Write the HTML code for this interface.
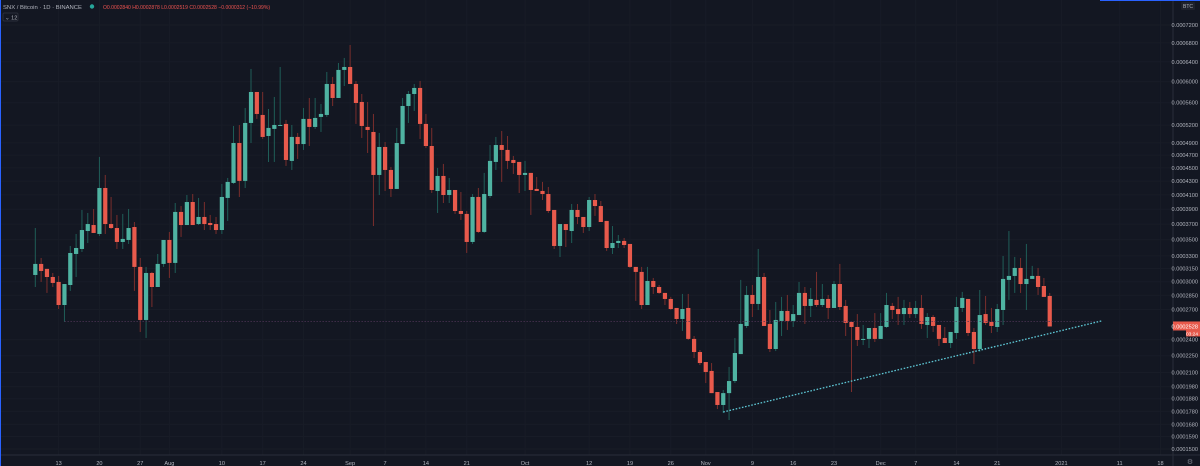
<!DOCTYPE html>
<html><head><meta charset="utf-8"><style>
html,body{margin:0;padding:0;background:#131722;overflow:hidden}
svg{display:block;font-family:"Liberation Sans",sans-serif}
</style></head><body>
<svg id="chart" width="1200" height="466" viewBox="0 0 1200 466" xmlns="http://www.w3.org/2000/svg">
<rect x="0" y="0" width="1200" height="466" fill="#131722"/>
<g id="grid"></g>
<g id="candles"></g>
<g id="drawings"></g>
<line x1="1173" y1="0" x2="1173" y2="466" stroke="#2a2e39" stroke-width="1"/>
<line x1="0" y1="455" x2="1200" y2="455" stroke="#2a2e39" stroke-width="1"/>
<g id="yaxis"></g>
<g id="xaxis"></g>
<line x1="1100" y1="0.5" x2="1200" y2="0.5" stroke="#2962ff" stroke-width="1"/>
<line x1="0.5" y1="0" x2="0.5" y2="466" stroke="#2962ff" stroke-width="1"/>
<g>
<text x="3" y="9" font-size="5.8" fill="#b2b5be" textLength="79" lengthAdjust="spacingAndGlyphs">SNX / Bitcoin · 1D · BINANCE</text>
<circle cx="92" cy="6.5" r="2.2" fill="#26a69a"/>
<text x="103" y="9" font-size="5.4" fill="#ef5350" textLength="167" lengthAdjust="spacingAndGlyphs">O0.0002840 H0.0002878 L0.0002519 C0.0002528 −0.0000312 (−10.99%)</text>
<rect x="3" y="13" width="15" height="8" rx="1.5" fill="none" stroke="#2a2e39"/>
<text x="5" y="19.5" font-size="5.5" fill="#b2b5be">⌄ 12</text>
</g>
<rect x="1181" y="2" width="14" height="8" rx="1" fill="#1e222d"/>
<text x="1188" y="8" font-size="5" fill="#b2b5be" text-anchor="middle">BTC</text>
<text x="1190" y="464" font-size="7" fill="#787b86" text-anchor="middle">⚙</text>
</svg>
<script>
const opens=[3076,3204,3146,3053,2997,2747,2963,3323,3384,3610,3688,3572,4200,3701,3649,3471,3496,3662,3169,2593,3099,2941,3204,3496,3216,3863,3688,4000,3701,3795,3715,3701,3623,4057,4274,4897,4304,5237,5801,5378,5014,5134,5185,5220,4609,4998,4880,5308,5168,5343,5378,5955,5688,6233,6293,5955,5614,5168,5082,4393,4832,4469,4186,4880,5540,5763,5878,5220,4848,4157,4378,4099,4171,3876,3836,3471,4071,3598,4085,4593,4864,4784,4624,4593,4393,4424,4186,4157,4113,3890,3421,3701,3610,3890,3795,3662,4028,3944,3742,3396,3458,3484,3446,3169,3111,2747,3008,2941,2876,2811,2716,2603,2716,2407,2284,2193,2114,1935,1830,1926,2027,2265,2533,2854,2758,3053,2553,2312,2583,2685,2583,2643,2876,2737,2801,2747,2811,2716,2974,2737,2573,2523,2397,2407,2513,2407,2523,2737,2705,2653,2716,2653,2716,2543,2623,2543,2416,2368,2464,2716,2811,2474,2312,2653,2573,2523,2695,3020,3065,3157,2974,3031,3065,2952,2843];
const highs=[3649,3275,3146,3099,3065,2974,3421,3572,3890,3849,3903,4672,4393,4071,3822,3836,3903,3728,3275,3169,3111,3323,3496,3598,3986,3944,4099,4113,4057,4000,3822,3795,4259,4348,5185,5202,5504,6253,5801,5801,5486,5707,6293,5290,5202,5065,5504,5688,5688,5577,6192,6093,6375,6479,6755,6014,5763,5614,5396,5065,4914,4515,5151,5688,5820,5955,6014,5396,5151,4500,4562,4348,4171,4142,3876,4113,4200,4424,4864,4998,5099,5014,4687,4593,4609,4424,4363,4289,4215,3890,3701,3701,3972,3972,3795,4071,4113,4014,3742,3675,3559,3521,3446,3169,3169,3169,3042,2963,2876,2833,2716,2865,2865,2435,2302,2193,2184,1935,1952,2149,2416,3020,2952,2963,3384,3099,2695,2779,2833,2854,2747,2997,2941,2930,3111,2974,2854,3008,3204,2801,2573,2653,2543,2513,2663,2663,2876,2769,2833,2801,2779,2790,2854,2663,2643,2543,2523,2474,2833,2887,2811,2513,2908,2843,2716,2758,3299,3610,3287,3275,3446,3181,3157,3042,2876];
const lows=[2941,2997,2876,2941,2705,2573,2898,3053,3347,3458,3585,3546,3572,3636,3384,3384,3446,2898,2474,2416,2726,2941,3169,3042,3099,3534,3688,3688,3688,3623,3623,3572,3572,3742,4259,4071,4200,4897,5308,4964,4593,4593,5185,4531,4469,4640,4784,4848,5134,5082,5343,5540,5688,5916,5955,5220,4981,4735,3675,4099,4157,4071,4186,4880,5237,5450,4964,4816,4128,3849,3986,3986,3836,3755,3335,3446,3585,3585,4057,4469,4289,4485,4408,4128,4157,3822,4157,4028,3849,3384,3287,3408,3458,3701,3585,3610,3809,3728,3360,3323,3396,3396,3157,2790,2705,2747,2865,2865,2747,2695,2553,2484,2397,2229,2166,2010,1926,1798,1767,1713,2010,2265,2513,2623,2695,2533,2284,2293,2435,2494,2523,2643,2553,2623,2726,2726,2603,2716,2695,2435,1935,2340,2349,2321,2378,2407,2513,2603,2543,2543,2613,2613,2504,2416,2474,2340,2368,2321,2407,2674,2435,2175,2284,2543,2464,2474,2543,2801,2876,2876,2695,3031,2854,2833,2528];
const closes=[3204,3122,3053,2986,2747,2974,3335,3396,3623,3701,3585,4200,3701,3649,3471,3509,3649,3169,2593,3099,2941,3204,3496,3216,3863,3688,4000,3688,3795,3701,3688,3623,4071,4289,4897,4304,5237,5801,5396,4998,5151,5202,5202,4624,4998,4880,5308,5168,5325,5396,5955,5688,6233,6293,5955,5595,5185,5116,4393,4832,4469,4186,4897,5540,5763,5878,5220,4848,4171,4378,4099,4171,3876,3836,3471,4071,3598,4113,4609,4864,4784,4609,4577,4393,4424,4171,4157,4113,3876,3421,3701,3623,3890,3795,3662,4028,3944,3728,3396,3458,3484,3433,3169,3111,2747,3008,2941,2876,2811,2705,2603,2705,2407,2284,2184,2105,1926,1830,1926,2027,2275,2553,2854,2758,3053,2533,2312,2593,2685,2583,2653,2876,2737,2811,2747,2811,2716,2974,2726,2563,2523,2397,2407,2513,2407,2533,2747,2695,2653,2716,2653,2716,2553,2623,2533,2407,2368,2474,2726,2822,2464,2312,2643,2563,2533,2705,3031,3065,3157,2974,3031,3065,2941,2833,2528];
const priceTicks=[7200,6800,6400,6000,5600,5200,4900,4700,4500,4300,4100,3900,3700,3500,3300,3150,3000,2850,2700,2400,2250,2100,1980,1880,1780,1680,1590,1500];
const timeTickDays=[4,11,18,23,32,39,46,54,60,67,74,84,95,102,109,115,123,130,137,145,151,158,165,176,186,193];
const timeTickLabels=["13","20","27","Aug","10","17","24","Sep","7","14","21","Oct","12","19","26","Nov","9","16","23","Dec","7","14","21","2021","11","18"];
const hLinePrice=[2576];
const trendDays=[118,183];
const trendPrices=[1775,2585];
const lastPrice=[2528];

const NS="http://www.w3.org/2000/svg";
function yS(p){return 25+359.5*(Math.log(8230)-Math.log(p+1030));}
function xS(i){return 35.3+i*5.83;}
function mk(tag,attrs,parent){const e=document.createElementNS(NS,tag);for(const k in attrs)e.setAttribute(k,attrs[k]);parent.appendChild(e);return e;}
function fmt(p){return "0."+String(Math.round(p)).padStart(7,"0");}
const grid=document.getElementById('grid'),cg=document.getElementById('candles'),dg=document.getElementById('drawings'),ya=document.getElementById('yaxis'),xa=document.getElementById('xaxis');

priceTicks.forEach(p=>{
  const y=yS(p);
  const gl=mk('line',{x1:0,x2:1173,y1:y,y2:y,stroke:'#181c27','stroke-width':1},grid);
  
  
  const t=mk('text',{x:1198,y:y+2,'font-size':5.6,fill:'#b2b5be','text-anchor':'end'},ya);
  t.textContent=fmt(p);
  
  
});
timeTickDays.forEach((d,k)=>{
  const x=xS(d);
  const gl=mk('line',{x1:x,x2:x,y1:0,y2:455,stroke:'#181c27','stroke-width':1},grid);
  
  
  const t=mk('text',{x:x,y:465,'font-size':5.6,fill:'#b2b5be','text-anchor':'middle'},xa);
  t.textContent=timeTickLabels[k];
  
  
});

const hy=yS(hLinePrice[0]);
const hl=mk('line',{x1:xS(5),x2:1100,y1:hy,y2:hy,stroke:'#4e3556','stroke-width':0.8,'stroke-dasharray':'1.5 1.5'},dg);



for(let i=0;i<opens.length;i++){
  const o=opens[i],h=highs[i],l=lows[i],c=closes[i];
  const up=c>=o;
  const x=xS(i);
  const w=mk('line',{x1:x,x2:x,y1:yS(h),y2:yS(l),stroke:up?'#1f5e58':'#7a2e2c','stroke-width':1},cg);
  
  
  const top=yS(Math.max(o,c)),bot=yS(Math.min(o,c));
  const b=mk('rect',{x:x-2.1,y:top,width:4.2,height:Math.max(1,bot-top),fill:up?'#4fb3a2':'#e85a4c'},cg);
  
  
}

const tl=mk('line',{x1:xS(trendDays[0]),y1:yS(trendPrices[0]),x2:xS(trendDays[1]),y2:yS(trendPrices[1]),stroke:'#5ec8d6','stroke-width':1.3,'stroke-dasharray':'1.6 1.6'},dg);



const ly=yS(lastPrice[0]);
const pl=mk('rect',{x:1173,y:ly-5,width:27,height:9,fill:'#e85a4c'},ya);


const pt=mk('text',{x:1198,y:ly+2,'font-size':5.6,fill:'#ffffff','text-anchor':'end'},ya);
pt.textContent=fmt(lastPrice[0]);


const cb=mk('rect',{x:1186,y:ly+4,width:14,height:6,fill:'#e85a4c'},ya);


const ct=mk('text',{x:1198,y:ly+9,'font-size':4.8,fill:'#ffffff','text-anchor':'end'},ya);
ct.textContent="03:24";


</script>
</body></html>
